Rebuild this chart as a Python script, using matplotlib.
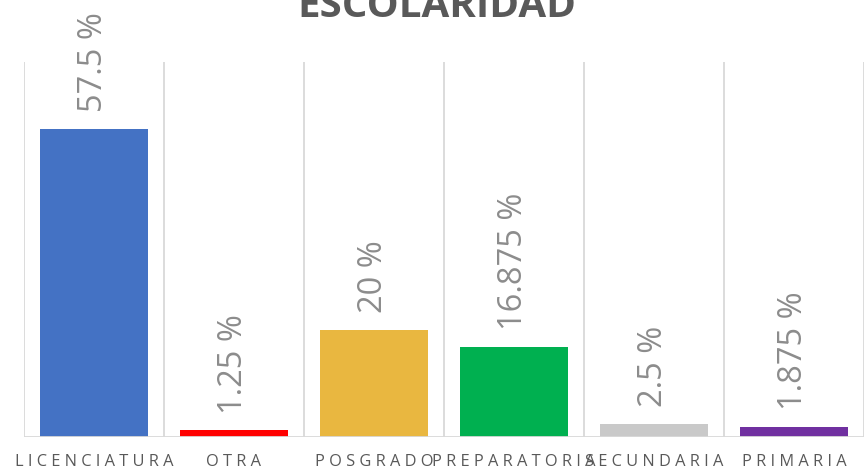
import matplotlib

matplotlib.use("Agg")
import matplotlib.pyplot as plt

plt.rcParams["font.family"] = ["Open Sans", "DejaVu Sans"]

CATEGORIES = ["LICENCIATURA", "OTRA", "POSGRADO", "PREPARATORIA", "SECUNDARIA", "PRIMARIA"]
PERCENTS = [57.5, 1.25, 20, 16.875, 2.5, 1.875]
LABELS = ["57.5 %", "1.25 %", "20 %", "16.875 %", "2.5 %", "1.875 %"]
COLORS = ["#4472C4", "#FF0000", "#E9B740", "#00B050", "#C9C9C9", "#7030A0"]

GRID = "#D9D9D9"


def spaced(s: str) -> str:
    # Excel-style letter spacing on the category axis
    return " ".join(s)


def main() -> int:
    W, H = 864, 476
    fig = plt.figure(figsize=(W / 100, H / 100), dpi=100)
    ax = fig.add_axes([24 / W, (H - 437) / H, 840 / W, 375 / H])

    x = list(range(len(CATEGORIES)))
    bars = ax.bar(x, PERCENTS, width=0.765, color=COLORS, zorder=3)

    for b, lbl in zip(bars, LABELS):
        ax.annotate(
            lbl,
            xy=(b.get_x() + b.get_width() / 2, b.get_height()),
            xytext=(0, 12),
            textcoords="offset points",
            rotation=90,
            ha="center",
            va="bottom",
            fontsize=23.5,
            color="#8C8C8C",
            annotation_clip=False,
        )

    for i in range(len(CATEGORIES) + 1):
        ax.axvline(i - 0.5, color=GRID, linewidth=1.3, zorder=1)
    ax.axhline(0, color=GRID, linewidth=1.3, zorder=4)

    ax.set_xlim(-0.5, len(CATEGORIES) - 0.5)
    ax.set_ylim(0, 70)
    ax.set_yticks([])
    ax.set_xticks(x)
    ax.set_xticklabels([spaced(c) for c in CATEGORIES])
    ax.tick_params(axis="x", length=0, pad=12.5, labelsize=11.8, labelcolor="#595959")
    for s in ax.spines.values():
        s.set_visible(False)

    fig.text(437 / W, 1 - 17 / H, "ESCOLARIDAD", ha="center", va="baseline",
             fontsize=29, fontweight="bold", color="#595959")

    fig.savefig("out.png", dpi=100)
    plt.close(fig)
    return 0


if __name__ == "__main__":
    raise SystemExit(main())
